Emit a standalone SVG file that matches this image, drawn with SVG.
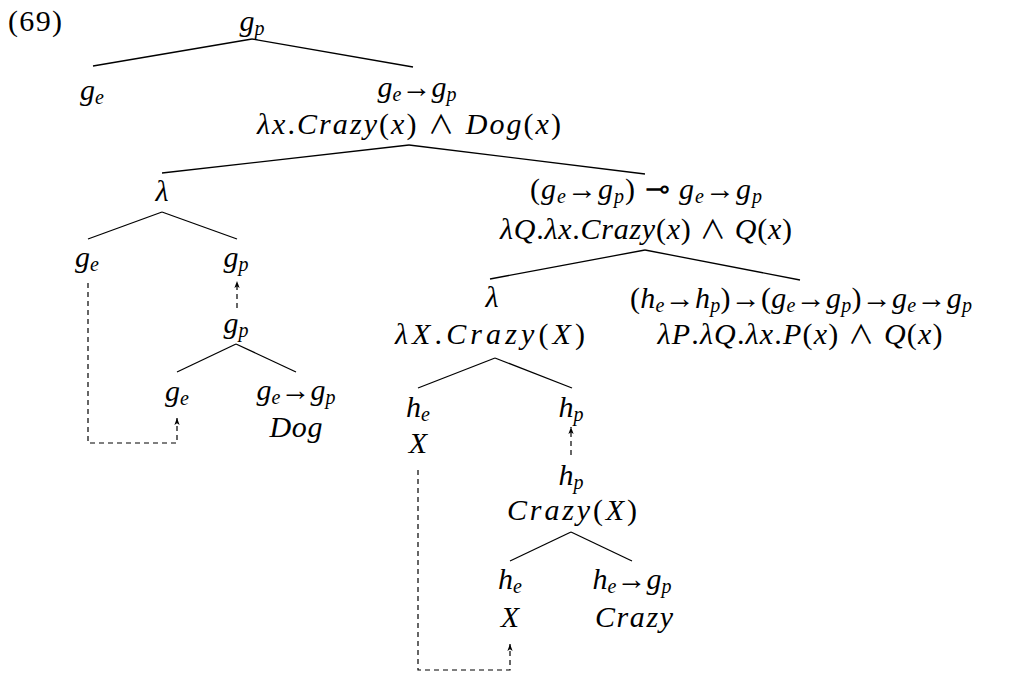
<svg xmlns="http://www.w3.org/2000/svg" width="1023" height="675" viewBox="0 0 1023 675">
<style>
text { font-family: "Liberation Serif", "DejaVu Serif", serif; font-size: 30px; fill: #000; }
.c { text-anchor: middle; }
.i { font-style: italic; }
.s { font-size: 20px; font-style: italic; }
.w { font-family: "Noto Sans CJK JP", "DejaVu Serif", serif; font-size: 26px; }
.e { stroke: #000; stroke-width: 1.3; fill: none; }
.d { stroke: #000; stroke-width: 1.2; fill: none; stroke-dasharray: 5 4; }
</style>
<defs>
<marker id="ah" viewBox="0 0 8 8" refX="8" refY="4" markerWidth="7" markerHeight="7" markerUnits="userSpaceOnUse" orient="auto">
<path d="M0,1 L8,4 L0,7 L2,4 Z" fill="#000"/>
</marker>
</defs>
<rect width="1023" height="675" fill="#fff"/>
<text x="8" y="31" textLength="54" lengthAdjust="spacing">(69)</text>
<g id="connectors">
<line class="e" x1="252" y1="39" x2="93" y2="66"/>
<line class="e" x1="252" y1="39" x2="413" y2="67"/>
<line class="e" x1="409" y1="145" x2="162" y2="173"/>
<line class="e" x1="409" y1="145" x2="645" y2="174"/>
<line class="e" x1="162" y1="212" x2="88" y2="239"/>
<line class="e" x1="162" y1="212" x2="237" y2="239"/>
<line class="e" x1="236" y1="344" x2="177" y2="372"/>
<line class="e" x1="236" y1="344" x2="296" y2="372"/>
<line class="e" x1="645" y1="250" x2="490" y2="279"/>
<line class="e" x1="645" y1="250" x2="800" y2="280"/>
<line class="e" x1="495" y1="358" x2="418" y2="388"/>
<line class="e" x1="495" y1="358" x2="572" y2="388"/>
<line class="e" x1="571" y1="532" x2="510" y2="561"/>
<line class="e" x1="571" y1="532" x2="632" y2="561"/>
<path class="d" d="M88,283 V443 H177 V418" marker-end="url(#ah)"/>
<path class="d" d="M237,308 V281" marker-end="url(#ah)"/>
<path class="d" d="M571,455 V427" marker-end="url(#ah)"/>
<path class="d" d="M418,470 V670 H510 V644" marker-end="url(#ah)"/>
</g>
<g id="n-root"><text class="c" x="252" y="31"><tspan class="i">g</tspan><tspan class="s" dy="4">p</tspan></text></g>
<g id="n-ge1"><text class="c" x="92" y="100"><tspan class="i">g</tspan><tspan class="s" dy="4">e</tspan></text></g>
<g id="n-gegp1">
<text class="c" x="417" y="97"><tspan class="i">g</tspan><tspan class="s" dy="4">e</tspan><tspan dy="-4">→</tspan><tspan class="i">g</tspan><tspan class="s" dy="4">p</tspan></text>
<text class="c" x="409" y="134" textLength="304" lengthAdjust="spacing"><tspan class="i">λx</tspan>.<tspan class="i">Crazy</tspan>(<tspan class="i">x</tspan>) <tspan class="w">∧</tspan> <tspan class="i">Dog</tspan>(<tspan class="i">x</tspan>)</text>
</g>
<g id="n-lam1"><text class="c i" x="162" y="201">λ</text></g>
<g id="n-ge2"><text class="c" x="87" y="267"><tspan class="i">g</tspan><tspan class="s" dy="4">e</tspan></text></g>
<g id="n-gp2"><text class="c" x="236" y="267"><tspan class="i">g</tspan><tspan class="s" dy="4">p</tspan></text></g>
<g id="n-gp3"><text class="c" x="236" y="333"><tspan class="i">g</tspan><tspan class="s" dy="4">p</tspan></text></g>
<g id="n-ge3"><text class="c" x="177" y="401"><tspan class="i">g</tspan><tspan class="s" dy="4">e</tspan></text></g>
<g id="n-dog">
<text class="c" x="296" y="400"><tspan class="i">g</tspan><tspan class="s" dy="4">e</tspan><tspan dy="-4">→</tspan><tspan class="i">g</tspan><tspan class="s" dy="4">p</tspan></text>
<text class="c i" x="296" y="437" textLength="53" lengthAdjust="spacing">Dog</text>
</g>
<g id="n-mod">
<text class="c" x="646" y="199" textLength="232" lengthAdjust="spacing">(<tspan class="i">g</tspan><tspan class="s" dy="4">e</tspan><tspan dy="-4">→</tspan><tspan class="i">g</tspan><tspan class="s" dy="4">p</tspan><tspan dy="-4">) ⊸ </tspan><tspan class="i">g</tspan><tspan class="s" dy="4">e</tspan><tspan dy="-4">→</tspan><tspan class="i">g</tspan><tspan class="s" dy="4">p</tspan></text>
<text class="c" x="646" y="239" textLength="292" lengthAdjust="spacing"><tspan class="i">λQ</tspan>.<tspan class="i">λx</tspan>.<tspan class="i">Crazy</tspan>(<tspan class="i">x</tspan>) <tspan class="w">∧</tspan> <tspan class="i">Q</tspan>(<tspan class="i">x</tspan>)</text>
</g>
<g id="n-lam2">
<text class="c i" x="492" y="307">λ</text>
<text class="c" x="490" y="344" textLength="190" lengthAdjust="spacing"><tspan class="i">λX</tspan>.<tspan class="i">Crazy</tspan>(<tspan class="i">X</tspan>)</text>
</g>
<g id="n-and">
<text class="c" x="801" y="308" textLength="342" lengthAdjust="spacing">(<tspan class="i">h</tspan><tspan class="s" dy="4">e</tspan><tspan dy="-4">→</tspan><tspan class="i">h</tspan><tspan class="s" dy="4">p</tspan><tspan dy="-4">)→(</tspan><tspan class="i">g</tspan><tspan class="s" dy="4">e</tspan><tspan dy="-4">→</tspan><tspan class="i">g</tspan><tspan class="s" dy="4">p</tspan><tspan dy="-4">)→</tspan><tspan class="i">g</tspan><tspan class="s" dy="4">e</tspan><tspan dy="-4">→</tspan><tspan class="i">g</tspan><tspan class="s" dy="4">p</tspan></text>
<text class="c" x="800" y="344" textLength="285" lengthAdjust="spacing"><tspan class="i">λP</tspan>.<tspan class="i">λQ</tspan>.<tspan class="i">λx</tspan>.<tspan class="i">P</tspan>(<tspan class="i">x</tspan>) <tspan class="w">∧</tspan> <tspan class="i">Q</tspan>(<tspan class="i">x</tspan>)</text>
</g>
<g id="n-he1">
<text class="c" x="418" y="417"><tspan class="i">h</tspan><tspan class="s" dy="4">e</tspan></text>
<text class="c i" x="418" y="453">X</text>
</g>
<g id="n-hp1"><text class="c" x="571" y="417"><tspan class="i">h</tspan><tspan class="s" dy="4">p</tspan></text></g>
<g id="n-hp2">
<text class="c" x="571" y="485"><tspan class="i">h</tspan><tspan class="s" dy="4">p</tspan></text>
<text class="c" x="572" y="520" textLength="130" lengthAdjust="spacing"><tspan class="i">Crazy</tspan>(<tspan class="i">X</tspan>)</text>
</g>
<g id="n-he2">
<text class="c" x="510" y="589"><tspan class="i">h</tspan><tspan class="s" dy="4">e</tspan></text>
<text class="c i" x="510" y="627">X</text>
</g>
<g id="n-crazy">
<text class="c" x="632" y="589"><tspan class="i">h</tspan><tspan class="s" dy="4">e</tspan><tspan dy="-4">→</tspan><tspan class="i">g</tspan><tspan class="s" dy="4">p</tspan></text>
<text class="c i" x="634" y="627" textLength="78" lengthAdjust="spacing">Crazy</text>
</g>
</svg>
